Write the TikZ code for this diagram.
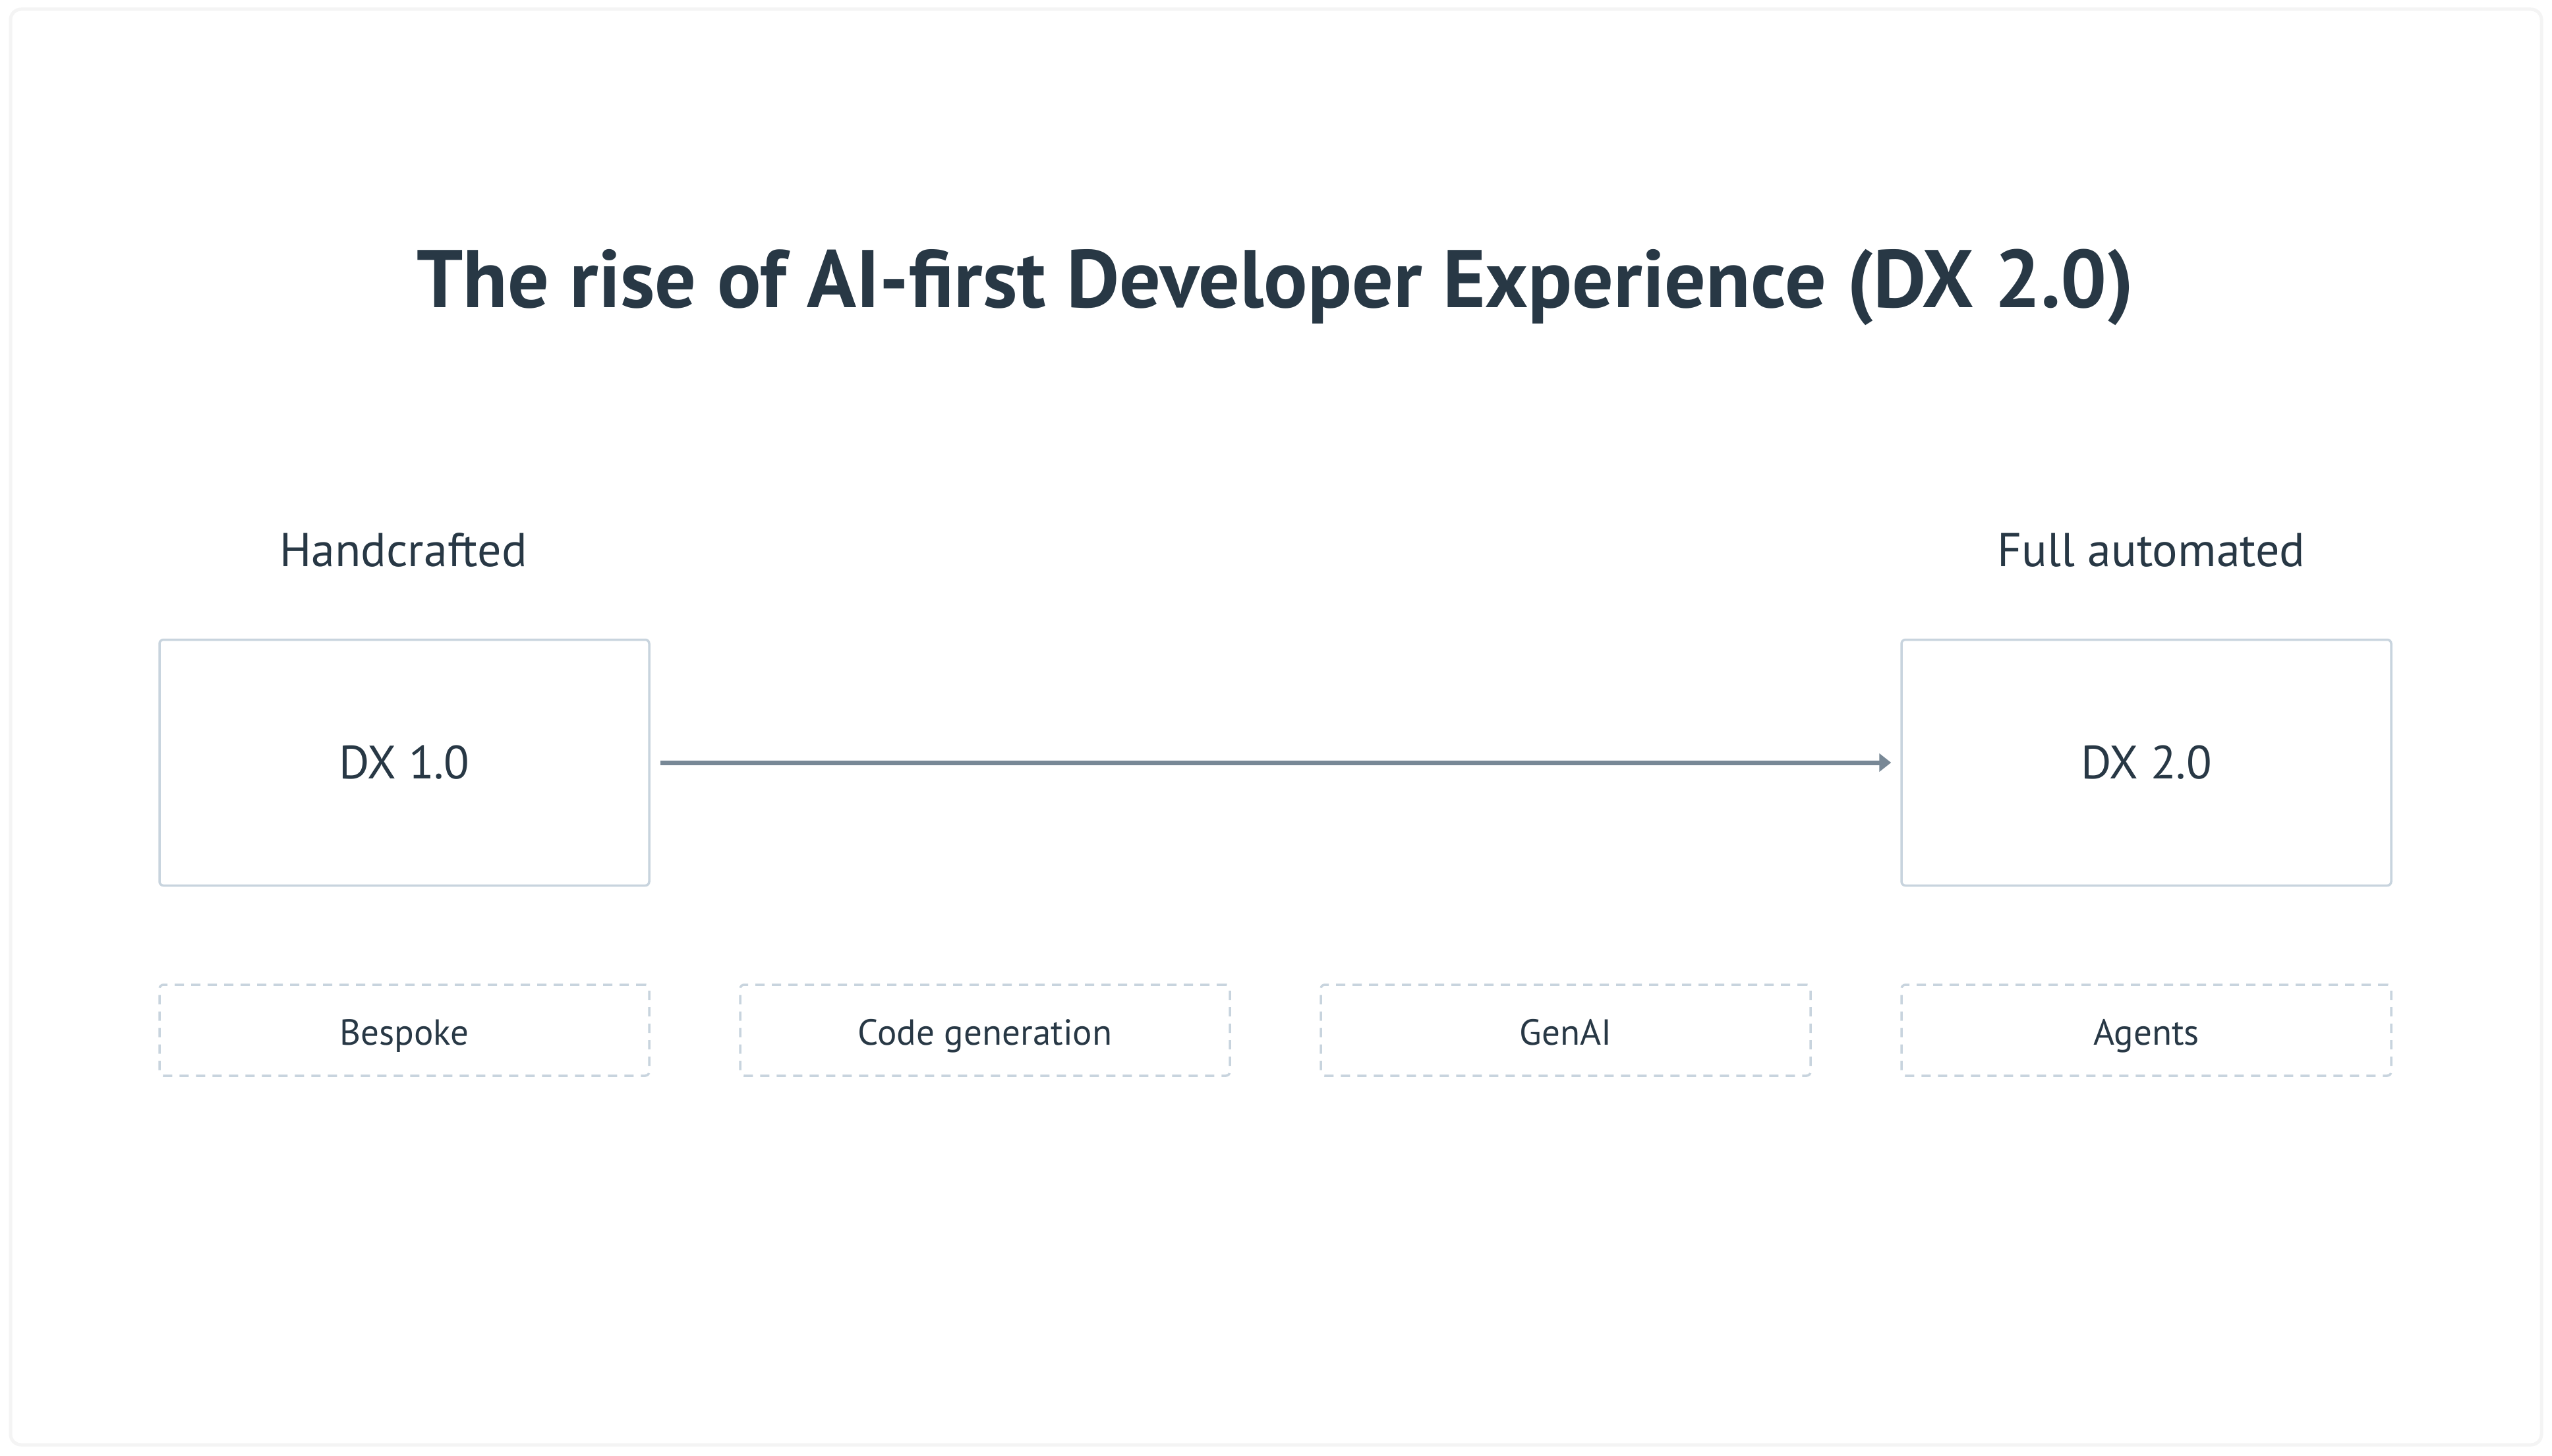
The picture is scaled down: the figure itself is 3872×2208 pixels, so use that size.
\documentclass[tikz,border=0pt]{standalone}
\usepackage{fontspec}
\setmainfont{PT Sans}
\usetikzlibrary{arrows.meta}
\definecolor{ink}{RGB}{40,56,69}
\definecolor{edge}{RGB}{200,212,222}
\definecolor{arrowc}{RGB}{120,136,150}
\definecolor{cardedge}{RGB}{244,244,244}
\begin{document}
\begin{tikzpicture}[x=1pt,y=-1pt,
  solidbox/.style={draw=edge,line width=3.5pt,rounded corners=6pt,fill=white,minimum width=743pt,minimum height=373pt,inner sep=0pt,text=ink,font=\fontsize{71}{80}\selectfont},
  dashbox/.style={draw=edge,line width=3.5pt,rounded corners=6pt,dash pattern=on 14pt off 11pt,minimum width=743pt,minimum height=138pt,inner sep=0pt},
  dashlabel/.style={anchor=base,text=ink,inner sep=0pt,font=\fontsize{55}{64}\selectfont},
  headlabel/.style={anchor=base,text=ink,inner sep=0pt,font=\fontsize{72}{86}\selectfont},
  flow/.style={draw=arrowc,line width=7pt,-{Triangle[length=18pt,width=27pt]},shorten <=15pt,shorten >=14pt}
]
\useasboundingbox (0,0) rectangle (3872,2208);
\fill[white] (0,0) rectangle (3872,2208);
\draw[cardedge,line width=5pt,rounded corners=16pt,fill=white] (16,14) rectangle (3856,2192);

\node[anchor=base,text=ink,inner sep=0pt,font=\fontsize{124}{136}\selectfont\bfseries] (title) at (1935,466) {The rise of AI-first Developer Experience (DX 2.0)};

\node[headlabel] (hand) at (612,859) {Handcrafted};
\node[headlabel] (full) at (3264,859) {Full automated};

\node[solidbox] (dx1) at (613.5,1157) {DX 1.0};
\node[solidbox] (dx2) at (3256.5,1157) {DX 2.0};

\draw[flow] (dx1.east) -- (dx2.west);

\node[dashbox] (d1) at (613.5,1563) {};
\node[dashbox] (d2) at (1494.5,1563) {};
\node[dashbox] (d3) at (2375.5,1563) {};
\node[dashbox] (d4) at (3256.5,1563) {};
\node[dashlabel] (t1) at (d1.center |- 0,1585) {Bespoke};
\node[dashlabel] (t2) at (d2.center |- 0,1585) {Code generation};
\node[dashlabel] (t3) at (d3.center |- 0,1585) {GenAI};
\node[dashlabel] (t4) at (d4.center |- 0,1585) {Agents};
\end{tikzpicture}
\end{document}
